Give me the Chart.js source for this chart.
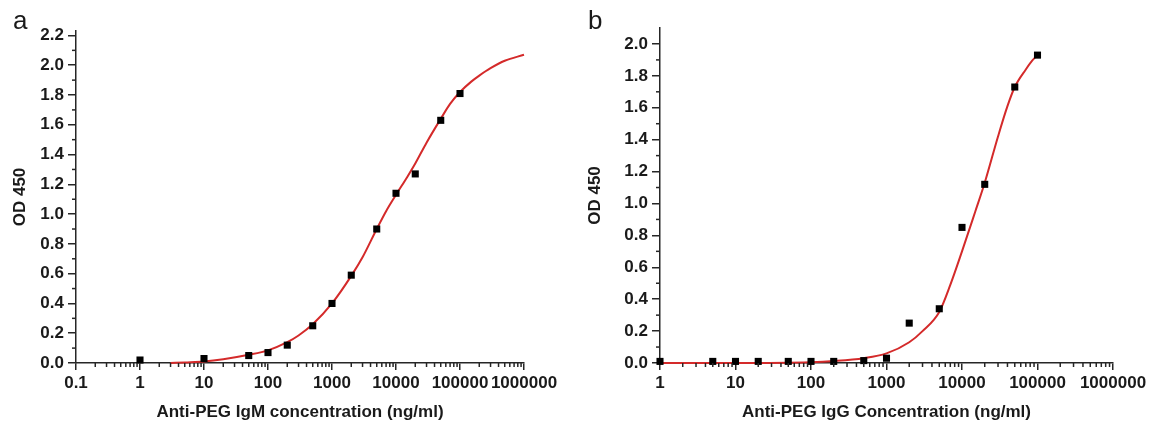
<!DOCTYPE html>
<html>
<head>
<meta charset="utf-8">
<script src="https://cdn.jsdelivr.net/npm/chart.js@4.4.1/dist/chart.umd.min.js"></script>
<style>
  html, body { margin: 0; padding: 0; background: #ffffff; }
  #wrap { position: relative; width: 1151px; height: 425px; overflow: hidden; background: #fff; }
  canvas { position: absolute; top: 0; }
  #cA { left: 0; }
  #cB { left: 580px; }
  .panel { position: absolute; top: 7px; font-family: "Liberation Sans", Arial, sans-serif; font-size: 26px; line-height: 26px; color: #1a1a1a; }
</style>
</head>
<body>
<div id="wrap">
  <canvas id="cA" width="580" height="425"></canvas>
  <canvas id="cB" width="571" height="425"></canvas>
  <div class="panel" style="left:13px">a</div>
  <div class="panel" style="left:588px">b</div>
</div>
<script>
// ---------- Panel a: Anti-PEG IgM ----------
const igmConc = [1, 10, 50, 100, 200, 500, 1000, 2000, 5000, 10000, 20000, 50000, 100000];
const igmOD   = [0.02, 0.03, 0.05, 0.07, 0.12, 0.25, 0.40, 0.59, 0.90, 1.14, 1.27, 1.63, 1.81];
const igmFitConc = [3, 5, 10, 20, 50, 100, 200, 300, 500, 1000, 2000, 3000, 5000, 7000, 10000, 15000, 20000, 30000, 50000, 70000, 100000, 150000, 200000, 300000, 500000, 1000000];
const igmFitOD   = [0.0, 0.004, 0.01, 0.025, 0.055, 0.085, 0.14, 0.185, 0.26, 0.40, 0.585, 0.71, 0.90, 1.02, 1.13, 1.25, 1.34, 1.48, 1.64, 1.74, 1.82, 1.89, 1.93, 1.98, 2.03, 2.07];
const xTicksA = [0.1, 1, 10, 100, 1000, 10000, 100000, 1000000];
const xTickLabelsA = ['0.1', '1', '10', '100', '1000', '10000', '100000', '1000000'];
const yTicksA = [0, 0.2, 0.4, 0.6, 0.8, 1.0, 1.2, 1.4, 1.6, 1.8, 2.0, 2.2];
const yTickLabelsA = ['0.0', '0.2', '0.4', '0.6', '0.8', '1.0', '1.2', '1.4', '1.6', '1.8', '2.0', '2.2'];

// ---------- Panel b: Anti-PEG IgG ----------
const iggConc = [1, 5, 10, 20, 50, 100, 200, 500, 1000, 2000, 5000, 10000, 20000, 50000, 100000];
const iggOD   = [0.01, 0.01, 0.01, 0.01, 0.01, 0.01, 0.01, 0.015, 0.03, 0.25, 0.34, 0.85, 1.12, 1.73, 1.93];
const iggFitConc = [1, 10, 100, 200, 500, 1000, 2000, 3000, 5000, 7000, 10000, 15000, 20000, 30000, 40000, 50000, 70000, 85000, 100000];
const iggFitOD   = [0.0, 0.0, 0.005, 0.012, 0.03, 0.06, 0.13, 0.2, 0.32, 0.49, 0.70, 0.95, 1.13, 1.42, 1.61, 1.73, 1.84, 1.895, 1.93];
const xTicksB = [1, 10, 100, 1000, 10000, 100000, 1000000];
const xTickLabelsB = ['1', '10', '100', '1000', '10000', '100000', '1000000'];
const yTicksB = [0, 0.2, 0.4, 0.6, 0.8, 1.0, 1.2, 1.4, 1.6, 1.8, 2.0];
const yTickLabelsB = ['0.0', '0.2', '0.4', '0.6', '0.8', '1.0', '1.2', '1.4', '1.6', '1.8', '2.0'];

const FONT = '"Liberation Sans", Arial, sans-serif';
const TXT = '#1a1a1a';
const AXIS = '#262626';
const RED = '#d42a2a';

const pairs = (xs, ys) => xs.map((x, i) => ({ x: x, y: ys[i] }));

const minorTicks = {
  id: 'minorTicks',
  afterDraw(chart) {
    const ctx = chart.ctx;
    const xs = chart.scales.x, ys = chart.scales.y;
    ctx.save();
    ctx.strokeStyle = AXIS;
    ctx.lineWidth = 1.5;
    const yt = ys.ticks.map(t => t.value);
    for (let i = 0; i < yt.length - 1; i++) {
      const p = ys.getPixelForValue((yt[i] + yt[i + 1]) / 2);
      ctx.beginPath(); ctx.moveTo(ys.right - 4, p); ctx.lineTo(ys.right, p); ctx.stroke();
    }
    const xt = xs.ticks.map(t => t.value);
    for (let i = 0; i < xt.length - 1; i++) {
      for (let k = 2; k <= 9; k++) {
        const p = xs.getPixelForValue(xt[i] * k);
        ctx.beginPath(); ctx.moveTo(p, xs.top); ctx.lineTo(p, xs.top + 4); ctx.stroke();
      }
    }
    ctx.restore();
  }
};

function makeChart(canvasId, cfg) {
  const tickFont = { family: FONT, size: 17, weight: 'bold' };
  return new Chart(document.getElementById(canvasId), {
    data: {
      datasets: [
        {
          type: 'scatter',
          data: pairs(cfg.conc, cfg.od),
          pointStyle: 'rect',
          pointRadius: 5,
          pointBackgroundColor: '#000',
          pointBorderColor: '#000',
          pointBorderWidth: 0,
          clip: false,
          order: 0
        },
        {
          type: 'line',
          data: pairs(cfg.fitConc, cfg.fitOD),
          borderColor: RED,
          borderWidth: 2,
          pointRadius: 0,
          cubicInterpolationMode: 'monotone',
          fill: false,
          clip: false,
          order: 1
        }
      ]
    },
    options: {
      responsive: false,
      devicePixelRatio: 1,
      animation: false,
      events: [],
      layout: { padding: cfg.padding },
      plugins: { legend: { display: false }, tooltip: { enabled: false } },
      scales: {
        x: {
          type: 'logarithmic',
          min: cfg.xMin, max: cfg.xMax,
          afterBuildTicks: s => { s.ticks = cfg.xTicks.map(v => ({ value: v })); },
          afterFit: s => { s.height = 62; },
          ticks: {
            autoSkip: false, maxRotation: 0, minRotation: 0, padding: 3,
            font: tickFont, color: TXT,
            callback: (v, i) => cfg.xLabels[i]
          },
          grid: { drawOnChartArea: false, drawTicks: true, tickLength: 7, color: AXIS, lineWidth: 1.5 },
          border: { display: true, color: AXIS, width: 1.5 },
          title: { display: true, text: cfg.xTitle, color: TXT, font: tickFont, padding: { top: 0, bottom: 2 } }
        },
        y: {
          type: 'linear',
          min: 0, max: cfg.yMax,
          afterBuildTicks: s => { s.ticks = cfg.yTicks.map(v => ({ value: v })); },
          afterFit: s => { s.width = cfg.yWidth; },
          ticks: {
            padding: 4, font: tickFont, color: TXT,
            callback: (v, i) => cfg.yLabels[i]
          },
          grid: { drawOnChartArea: false, drawTicks: true, tickLength: 8, color: AXIS, lineWidth: 1.5 },
          border: { display: true, color: AXIS, width: 1.5 },
          title: { display: true, text: 'OD 450', color: TXT, font: tickFont, padding: { top: cfg.yTitlePad, bottom: 0 } }
        }
      }
    },
    plugins: [minorTicks]
  });
}

makeChart('cA', {
  conc: igmConc, od: igmOD, fitConc: igmFitConc, fitOD: igmFitOD,
  xMin: 0.1, xMax: 1000000, xTicks: xTicksA, xLabels: xTickLabelsA,
  yMax: 2.23, yTicks: yTicksA, yLabels: yTickLabelsA,
  xTitle: 'Anti-PEG IgM concentration (ng/ml)',
  padding: { left: 0, right: 56, top: 31, bottom: 0 },
  yWidth: 76, yTitlePad: 10
});

makeChart('cB', {
  conc: iggConc, od: iggOD, fitConc: iggFitConc, fitOD: iggFitOD,
  xMin: 1, xMax: 1000000, xTicks: xTicksB, xLabels: xTickLabelsB,
  yMax: 2.1, yTicks: yTicksB, yLabels: yTickLabelsB,
  xTitle: 'Anti-PEG IgG Concentration (ng/ml)',
  padding: { left: 0, right: 38, top: 28, bottom: 0 },
  yWidth: 80, yTitlePad: 5
});
</script>
</body>
</html>
